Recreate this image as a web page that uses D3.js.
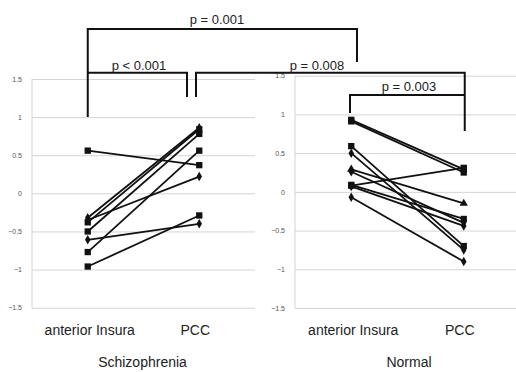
<!DOCTYPE html>
<html>
<head>
<meta charset="utf-8">
<script src="https://cdn.jsdelivr.net/npm/d3@7"></script>
<style>
  body { margin: 0; background: #fff; }
  svg { display: block; }
  .tick text { font-family: "Liberation Sans", Arial, sans-serif; font-size: 7px; fill: #555; }
  .grid line { stroke: #d4d4d4; }
  .lbl { font-family: "Liberation Sans", Arial, sans-serif; fill: #222; }
</style>
</head>
<body>
<svg id="chart" width="516" height="372"></svg>
<script>
const categories = ['anterior Insura', 'PCC'];
const yTicks = [-1.5, -1, -0.5, 0, 0.5, 1, 1.5];

// schizophrenia subjects: [anterior Insura, PCC]
const schizoInsula = [0.56, -0.32, -0.35, -0.38, -0.50, -0.61, -0.77, -0.96];
const schizoPCC    = [0.37, 0.86, 0.22, 0.84, 0.78, -0.40, 0.56, -0.29];
const schizoMarker = ['square', 'diamond', 'diamond', 'square', 'square', 'diamond', 'square', 'square'];

// normal subjects
const normalInsula = [0.93, 0.91, 0.08, 0.59, 0.50, 0.29, 0.26, 0.09, 0.07, -0.07];
const normalPCC    = [0.29, 0.25, 0.31, -0.70, -0.75, -0.15, -0.40, -0.35, -0.44, -0.90];
const normalMarker = ['square', 'square', 'square', 'square', 'diamond', 'triangle', 'diamond', 'square', 'diamond', 'diamond'];

const svg = d3.select('#chart');

function panel(opts) {
  const { x0, x1, yTop, yBottom, insula, pcc, markers, labelX } = opts;
  const x = d3.scalePoint().domain(categories).range([x0, x1]).padding(0.5);
  const y = d3.scaleLinear().domain([-1.5, 1.5]).range([yBottom, yTop]);
  const g = svg.append('g');

  g.append('g')
    .attr('class', 'grid')
    .attr('transform', `translate(${x0},0)`)
    .call(d3.axisLeft(y).tickValues(yTicks).tickSize(-(x1 - x0)).tickPadding(10).tickFormat(d3.format('')))
    .call(s => s.select('.domain').remove());

  g.append('line')
    .attr('x1', x0).attr('x2', x0)
    .attr('y1', y(1.5)).attr('y2', y(-1.5))
    .attr('stroke', '#d4d4d4');

  const subjects = insula.map((v, i) => ({ a: v, b: pcc[i], m: markers[i] }));

  g.selectAll('.subj')
    .data(subjects)
    .enter()
    .append('line')
    .attr('x1', x(categories[0])).attr('y1', d => y(d.a))
    .attr('x2', x(categories[1])).attr('y2', d => y(d.b))
    .attr('stroke', '#111')
    .attr('stroke-width', 1.8);

  const sym = { square: d3.symbolSquare, diamond: d3.symbolDiamond, triangle: d3.symbolTriangle };
  const size = { square: 40, diamond: 26, triangle: 30 };
  subjects.forEach(d => {
    [[categories[0], d.a], [categories[1], d.b]].forEach(([c, v]) => {
      g.append('path')
        .attr('d', d3.symbol().type(sym[d.m]).size(size[d.m])())
        .attr('transform', `translate(${x(c)},${y(v)})`)
        .attr('fill', '#111');
    });
  });

  g.selectAll('.cat')
    .data(categories)
    .enter()
    .append('text')
    .attr('class', 'lbl')
    .attr('x', d => x(d) + (d === 'PCC' ? -4 : 2))
    .attr('y', 335)
    .attr('text-anchor', 'middle')
    .style('font-size', '14px')
    .text(d => d);

  g.append('text')
    .attr('class', 'lbl')
    .attr('x', labelX)
    .attr('y', 367)
    .attr('text-anchor', 'middle')
    .style('font-size', '14px')
    .text(opts.title);

  return { x, y };
}

const L = panel({ x0: 32, x1: 255, yTop: 79, yBottom: 307.7, insula: schizoInsula, pcc: schizoPCC,
  markers: schizoMarker, title: 'Schizophrenia', labelX: 142.5 });
const R = panel({ x0: 295, x1: 520, yTop: 75.7, yBottom: 308, insula: normalInsula, pcc: normalPCC,
  markers: normalMarker, title: 'Normal', labelX: 409 });

// significance brackets
const brackets = [
  { pts: [[L.x('anterior Insura'), L.y(1)], [L.x('anterior Insura'), 29], [357, 29], [357, 62]], label: 'p = 0.001', lx: 217, ly: 24 },
  { pts: [[L.x('anterior Insura'), 72.7], [187, 72.7], [187, 97]], label: 'p < 0.001', lx: 139, ly: 70 },
  { pts: [[196, 97], [196, 72.7], [R.x('PCC') + 1, 72.7], [R.x('PCC') + 1, 131]], label: 'p = 0.008', lx: 317, ly: 70 },
  { pts: [[350, 113], [350, 95], [R.x('PCC') + 1, 95]], label: 'p = 0.003', lx: 409, ly: 91 }
];

brackets.forEach(b => {
  svg.append('path')
    .attr('d', d3.line()(b.pts))
    .attr('fill', 'none')
    .attr('stroke', '#111')
    .attr('stroke-width', 2);
  svg.append('text')
    .attr('class', 'lbl')
    .attr('x', b.lx)
    .attr('y', b.ly)
    .attr('text-anchor', 'middle')
    .style('font-size', '13px')
    .text(b.label);
});
</script>
</body>
</html>
